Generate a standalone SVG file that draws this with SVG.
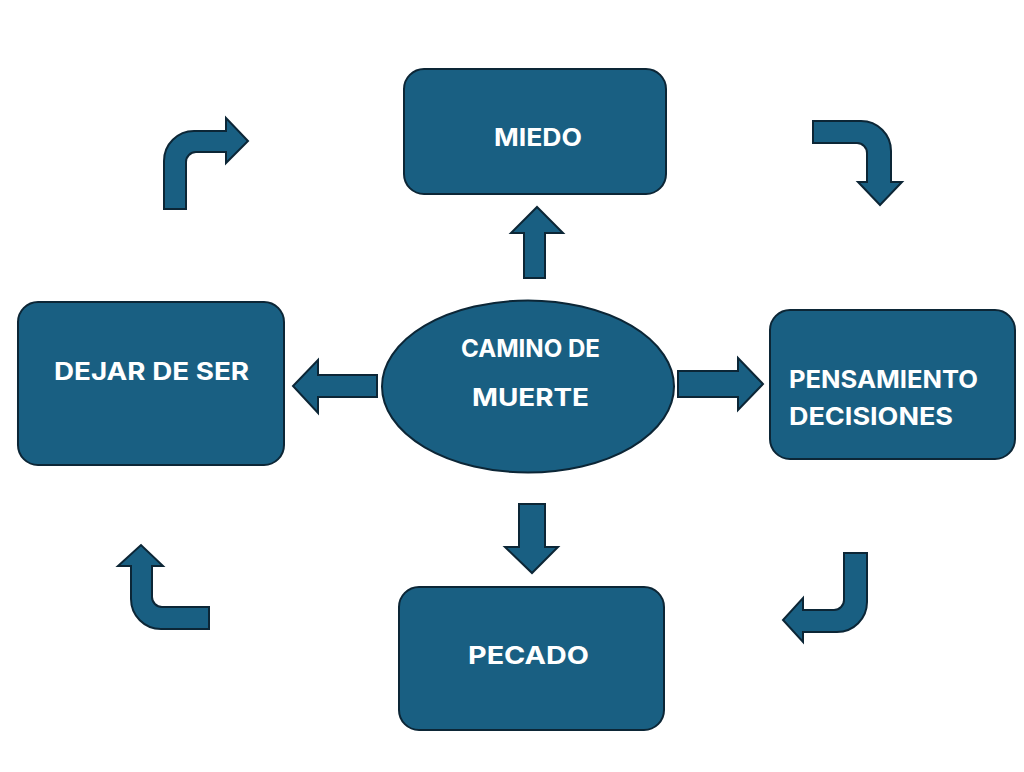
<svg xmlns="http://www.w3.org/2000/svg" width="1024" height="772" viewBox="0 0 1024 772">
<style>
.node{fill:#195f82;stroke:#0c2636;stroke-width:2}
.arr{fill:#195f82;stroke:#0c2636;stroke-width:2;stroke-linejoin:miter}
.t{font-family:Inter,"Open Sans","Liberation Sans",sans-serif;font-weight:bold;fill:#ffffff;font-size:24px}
</style>
<rect width="1024" height="772" fill="#ffffff"/>
<g id="miedo">
<rect class="node" x="404" y="69" width="262" height="125" rx="20"/>
<text class="t" x="494" y="146" textLength="88" lengthAdjust="spacingAndGlyphs">MIEDO</text>
</g>
<g id="dejar">
<rect class="node" x="18" y="302" width="266" height="163" rx="20"/>
<text class="t" x="54" y="380" textLength="195" lengthAdjust="spacingAndGlyphs">DEJAR DE SER</text>
</g>
<g id="pensamiento">
<rect class="node" x="770" y="310" width="245" height="149" rx="20"/>
<text class="t" x="789" y="388" textLength="189" lengthAdjust="spacingAndGlyphs">PENSAMIENTO</text>
<text class="t" x="789" y="425" textLength="164" lengthAdjust="spacingAndGlyphs">DECISIONES</text>
</g>
<g id="pecado">
<rect class="node" x="399" y="587" width="265" height="143" rx="20"/>
<text class="t" x="468" y="664" textLength="121" lengthAdjust="spacingAndGlyphs">PECADO</text>
</g>
<g id="camino">
<ellipse class="node" cx="528" cy="386.5" rx="146" ry="86"/>
<text class="t" x="461" y="357" font-size="22" textLength="139" lengthAdjust="spacingAndGlyphs">CAMINO DE</text>
<text class="t" x="472" y="406" font-size="25" textLength="117" lengthAdjust="spacingAndGlyphs">MUERTE</text>
</g>
<g id="connectors">
<path class="arr" d="M524,278 L524,233 L511,233 L537,207 L563,233 L545,233 L545,278 Z"/>
<path class="arr" d="M519,504 L545,504 L545,547 L558,547 L532,573 L505,547 L519,547 Z"/>
<path class="arr" d="M377,375 L318,375 L318,360 L293,386 L318,413 L318,397 L377,397 Z"/>
<path class="arr" d="M678,371 L738,371 L738,358 L763,384 L738,410 L738,397 L678,397 Z"/>
<path class="arr" d="M164,209 L164,161 A30,30 0 0 1 194,131 L226,131 L226,118 L248,141 L226,163 L226,152 L196,152 A10,10 0 0 0 186,162 L186,209 Z"/>
<path class="arr" d="M813,121 L861,121 A30,30 0 0 1 891,151 L891,182 L902,182 L880,205 L858,182 L867,182 L867,153 A10,10 0 0 0 857,143 L813,143 Z"/>
<path class="arr" d="M844,553 L867,553 L867,602 A30,30 0 0 1 837,632 L803,632 L803,642 L783,620 L803,598 L803,610 L834,610 A10,10 0 0 0 844,600 Z"/>
<path class="arr" d="M209,607 L162,607 A10,10 0 0 1 152,597 L152,566 L163,566 L141,545 L118,566 L131,566 L131,599 A30,30 0 0 0 161,629 L209,629 Z"/>
</g>
</svg>
